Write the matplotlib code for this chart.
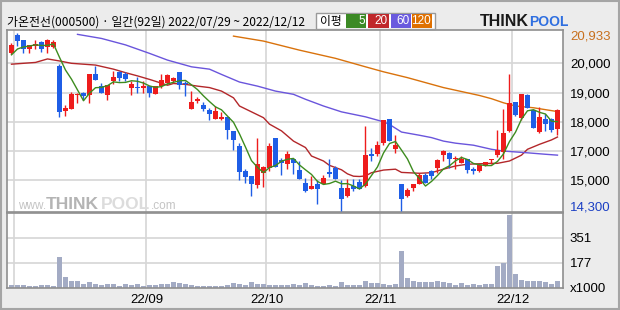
import numpy as np
import pandas as pd
import matplotlib
matplotlib.use('Agg')
import matplotlib.pyplot as plt
from matplotlib.patches import Rectangle
from matplotlib.transforms import blended_transform_factory

title = '가온전선(000500) · 일간(92일) 2022/07/29 ~ 2022/12/12'

opens = [20360, 20970, 20800, 20500, 20590, 20730, 20570, 20560, 19910, 18370,
         18450, 18920, 18980, 18910, 19620, 19220, 18910, 19400, 19700, 19650,
         19170, 19190, 19170, 19220, 18940, 19220, 19340, 19400, 19700, 19340,
         18430, 18700, 18580, 18400, 18110, 18090, 18170, 17690, 17170, 16320,
         16150, 15840, 16260, 16430, 17440, 16690, 16550, 16740, 16350, 15920,
         15710, 15880, 15880, 16290, 16430, 15750, 15460, 15810, 15940, 15810,
         16910, 16890, 17270, 18090, 17080, 15860, 15460, 15730, 15860, 16170,
         16320, 16430, 16860, 16920, 16720, 16600, 16740, 16380, 16320, 16510,
         16690, 16860, 16970, 17690, 18680, 18140, 18910, 18400, 17650, 18110,
         18090, 17740]
highs = [20680, 21030, 20800, 20630, 20800, 20760, 20820, 20800, 19970, 18560,
         19020, 19000, 19020, 19620, 19910, 19320, 19250, 19740, 19740, 19700,
         19400, 19540, 19400, 19230, 19230, 19620, 19650, 19540, 19710, 19400,
         19050, 18850, 18680, 18480, 18540, 18350, 18180, 17700, 17270, 16380,
         16150, 17440, 16490, 17270, 17440, 16750, 17000, 16740, 16660, 16090,
         16150, 16010, 16170, 16720, 16490, 16010, 16030, 16030, 16030, 17860,
         17090, 17340, 18060, 18090, 17540, 15870, 15750, 15890, 16260, 16260,
         16350, 16740, 17040, 16970, 16830, 16830, 16740, 16470, 16520, 16640,
         16720, 17720, 18450, 19620, 18690, 18950, 18940, 18410, 18520, 18260,
         18120, 18450]
lows = [20330, 20590, 20340, 20360, 20480, 20400, 20360, 20530, 18170, 18200,
        18440, 18630, 18750, 18650, 19430, 18990, 18750, 19280, 19400, 19400,
        18920, 19000, 19000, 18860, 18940, 19170, 19280, 19320, 19110, 18880,
        18430, 18630, 18370, 18060, 18100, 18060, 17420, 17030, 16010, 15920,
        15460, 15750, 15770, 16320, 16440, 16180, 16400, 16200, 16050, 15600,
        15690, 15180, 15860, 16120, 16030, 14950, 15440, 15630, 15710, 15770,
        16660, 16830, 17200, 17340, 16940, 14950, 15440, 15630, 15860, 15910,
        16030, 16260, 16660, 16430, 16400, 16580, 16260, 16200, 16290, 16500,
        16550, 16810, 16720, 17650, 18200, 18060, 18480, 17790, 17610, 17690,
        17650, 17550]
closes = [20630, 20760, 20500, 20630, 20650, 20500, 20800, 20730, 18340, 18480,
          18940, 18960, 18880, 19620, 19430, 19000, 19250, 19530, 19490, 19470,
          19280, 19160, 19220, 19000, 19220, 19430, 19600, 19510, 19250, 19280,
          18680, 18790, 18430, 18280, 18370, 18180, 17710, 17380, 16290, 16120,
          15860, 16570, 16460, 17170, 16460, 16600, 16910, 16600, 16050, 15630,
          15810, 15710, 16090, 16210, 16030, 15370, 15730, 15690, 15710, 16860,
          16830, 17200, 18060, 17340, 17200, 15370, 15670, 15880, 16180, 15920,
          16150, 16690, 17000, 16720, 16770, 16720, 16340, 16320, 16510, 16630,
          16720, 17040, 17610, 18630, 18220, 18940, 18480, 17800, 18180, 17930,
          17720, 18390]
volumes = [19, 19, 19, 12, 12, 19, 19, 12, 216, 74,
           49, 49, 26, 42, 26, 19, 26, 26, 12, 26,
           19, 26, 12, 19, 19, 26, 26, 40, 33, 26,
           19, 17, 12, 17, 12, 17, 24, 33, 29, 24,
           40, 29, 26, 24, 24, 24, 24, 29, 24, 33,
           24, 17, 17, 24, 17, 40, 24, 24, 24, 47,
           33, 33, 29, 24, 26, 256, 68, 52, 40, 40,
           40, 47, 40, 33, 24, 33, 24, 29, 24, 29,
           26, 156, 172, 511, 94, 59, 52, 47, 52, 40,
           29, 52]

ma5_head = [20290, 20490, 20560, 20590]
ma20_days = [0, 4, 6, 8, 10, 14, 17, 19, 21, 23, 25, 26, 27, 29, 31, 33, 35, 37, 38, 40,
             42, 43, 45, 47, 49, 50, 52, 53, 55, 56, 57, 58, 59, 60, 62, 64, 65, 68, 70, 72,
             74, 76, 80, 81, 83, 85, 86, 88, 90, 91]
ma20_vals = [19970, 20030, 20150, 20080, 20000, 19940, 19800, 19680, 19570, 19450,
             19320, 19250, 19310, 19280, 19220, 19170, 19050, 18820, 18540, 18340,
             18140, 17920, 17690, 17340, 17120, 16830, 16660, 16510, 16360, 16220,
             16140, 16130, 16150, 16260, 16350, 16380, 16270, 16240, 16260, 16380,
             16490, 16550, 16580, 16580, 16660, 16860, 17060, 17230, 17380, 17480]
ma60_days = [11, 15, 19, 23, 26, 30, 33, 35, 38, 41, 44, 47, 49, 52, 55, 59, 62, 63, 65, 68,
             70, 72, 74, 77, 80, 82, 84, 86, 89, 91]
ma60_vals = [20990, 20850, 20630, 20340, 20110, 19880, 19800, 19620, 19360, 19220,
             19050, 18940, 18770, 18540, 18340, 18170, 18000, 17910, 17650, 17540,
             17460, 17340, 17270, 17200, 17060, 17000, 16970, 16940, 16890, 16860]
ma120_days = [37, 42, 48, 54, 59, 62, 66, 72, 78, 80, 82, 84, 87, 91]
ma120_vals = [20930, 20760, 20450, 20170, 19880, 19710, 19510, 19170, 18900, 18790,
              18650, 18540, 18480, 18350]

month_pos = [0.5, 22.5, 42.5, 61.5, 83.5]
month_labels = ['', '22/09', '22/10', '22/11', '22/12']
price_ticks = [20000, 19000, 18000, 17000, 16000]
price_tick_labels = ['20,000', '19,000', '18,000', '17,000', '15,000']
vol_ticks = [0, 177, 351]
vol_tick_labels = ['x1000', '177', '351']

UP = '#ee1c1c'
DOWN = '#1f5ee6'
GRID = '#d6d6d6'
EDGE = '#8f8f8f'
NUM_FONT = ['Liberation Sans', 'DejaVu Sans']
KR_FONT = ['Noto Sans CJK KR', 'DejaVu Sans']
NUM_SIZE = 9.5

W, H = 620, 310


def fx(x):
    return x / W


def fy(y):
    return 1 - y / H


fig = plt.figure(figsize=(6.2, 3.1), dpi=100, facecolor='#ececec')

ax = fig.add_axes([fx(7), fy(212), fx(556), 182 / H])
axv = fig.add_axes([fx(7), fy(288), fx(556), 75 / H])

idx = np.arange(len(closes))

# price panel
for p in price_ticks:
    ax.axhline(p, color=GRID, lw=1.2, zorder=0)
for m in month_pos:
    ax.axvline(m, color=GRID, lw=1.2, zorder=0)

# watermark sits under the candles
ax.text(fx(18), fy(209), 'www.', color='#c4c4c4', fontsize=8.5, family=NUM_FONT,
        va='baseline', transform=fig.transFigure, zorder=1)
ax.text(fx(46), fy(209), 'THINK', color='#b4b4b4', fontsize=12.5, weight='bold',
        family=NUM_FONT, va='baseline', transform=fig.transFigure, zorder=1)
ax.text(fx(101), fy(209), 'POOL', color='#dcdcdc', fontsize=12.5, weight='bold',
        family=NUM_FONT, va='baseline', transform=fig.transFigure, zorder=1)
ax.text(fx(151), fy(209), '.com', color='#c4c4c4', fontsize=8.5, family=NUM_FONT,
        va='baseline', transform=fig.transFigure, zorder=1)

for i in idx:
    o, h, l, c = opens[i], highs[i], lows[i], closes[i]
    col = UP if c >= o else DOWN
    ax.vlines(i, l, h, color=col, lw=1.0, zorder=3)
    body = max(abs(c - o), 35)
    ax.bar(i, body, bottom=min(o, c), width=0.82, color=col, lw=0, zorder=3)

ma5 = pd.Series(closes).rolling(5).mean().to_numpy()
ma5[:4] = ma5_head
ax.plot(idx, ma5, color='#3d8c1f', lw=1.0, zorder=4)
ax.plot(ma20_days, ma20_vals, color='#b3272a', lw=1.0, zorder=2)
ax.plot(ma60_days, ma60_vals, color='#6a55dc', lw=1.0, zorder=2)
ax.plot(ma120_days, ma120_vals, color='#d9720c', lw=1.0, zorder=2)

ax.set_xlim(-0.75, 91.92)
ax.set_ylim(14916, 21139)
ax.set_facecolor('white')
ax.set_xticks([])
ax.yaxis.tick_right()
ax.set_yticks(price_ticks)
ax.set_yticklabels(price_tick_labels, family=NUM_FONT, fontsize=NUM_SIZE)
ax.tick_params(axis='y', length=0, pad=5)
for s in ax.spines.values():
    s.set_color(EDGE)
    s.set_linewidth(1.2)

tr = blended_transform_factory(ax.transAxes, ax.transData)
ax.text(1.0 + 7 / 556, 20933, '20,933', transform=tr, color='#c8701e',
        family=NUM_FONT, fontsize=NUM_SIZE, va='center', ha='left')
ax.text(1.0 + 7 / 556, 0.027, '14,300', transform=ax.transAxes, color='#1b3fc4',
        family=NUM_FONT, fontsize=NUM_SIZE, va='center', ha='left')

# volume panel
for v in vol_ticks[1:]:
    axv.axhline(v, color=GRID, lw=1.2, zorder=0)
for m in month_pos:
    axv.axvline(m, color=GRID, lw=1.2, zorder=0)
axv.bar(idx, volumes, width=0.8, color='#a3abc4', lw=0, zorder=2)
axv.set_xlim(-0.75, 91.92)
axv.set_ylim(0, 522)
axv.set_facecolor('white')
axv.yaxis.tick_right()
axv.set_yticks(vol_ticks)
axv.set_yticklabels(vol_tick_labels, family=NUM_FONT, fontsize=NUM_SIZE)
axv.set_xticks(month_pos)
axv.set_xticklabels(month_labels, family=NUM_FONT, fontsize=NUM_SIZE)
axv.tick_params(axis='both', length=0)
axv.tick_params(axis='y', pad=5)
axv.tick_params(axis='x', pad=4)
for s in axv.spines.values():
    s.set_color(EDGE)
    s.set_linewidth(1.2)

# header
fig.text(fx(7), fy(22), title, family=KR_FONT, fontsize=8.6, va='center', ha='left')

fig.patches.append(Rectangle((fx(316), fy(29)), fx(119), 16 / H, transform=fig.transFigure,
                             facecolor='white', edgecolor='#9a9a9a', lw=1))
fig.text(fx(320), fy(21.5), '이평', family=KR_FONT, fontsize=8.5, va='center', ha='left')
legend_boxes = [(346, 366, '#3c8a25', '5'), (368, 389, '#c0282b', '20'),
                (391, 411, '#6a5ade', '60'), (412, 432, '#df7000', '120')]
for x0, x1, col, lab in legend_boxes:
    fig.patches.append(Rectangle((fx(x0), fy(27.5)), fx(x1 - x0), 13 / H,
                                 transform=fig.transFigure, facecolor=col, lw=0))
    fig.text(fx(x1 - 1), fy(21.5), lab, color='white', family=NUM_FONT, fontsize=8.5,
             va='center', ha='right')

fig.text(fx(480), fy(21.5), 'THINK', color='#1a1a1a', fontsize=11.5, weight='bold',
         family=NUM_FONT, va='center', ha='left')
fig.text(fx(529), fy(21.5), 'POOL', color='#2f6fe0', fontsize=10, weight='bold',
         family=NUM_FONT, va='center', ha='left')

fig.patches.append(Rectangle((0.001, 0.002), 0.997, 0.996, transform=fig.transFigure,
                             fill=False, edgecolor='#a5a5a5', lw=1.5))

fig.savefig('out.png', dpi=100, facecolor=fig.get_facecolor())
